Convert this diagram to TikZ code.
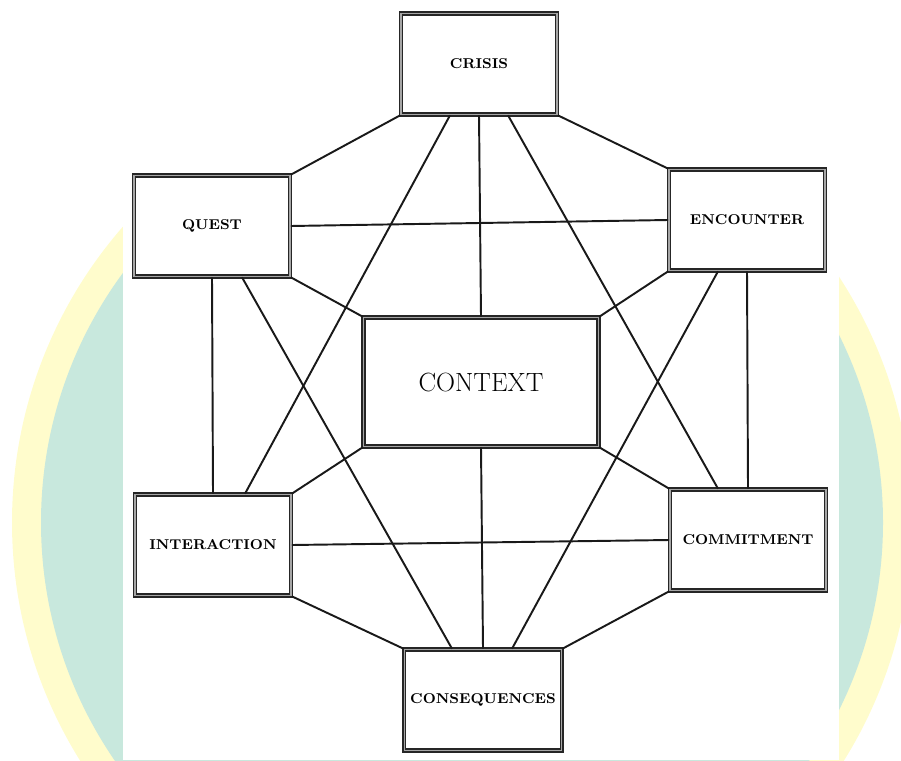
\documentclass[tikz,border=0pt]{standalone}
\usepackage{xcolor}
\usepackage{tikz}
\usetikzlibrary{positioning, calc}

\definecolor{wmteal}{RGB}{200,232,221}
\definecolor{wmyellow}{RGB}{255,252,204}

\begin{document}
\begin{tikzpicture}[
    stage/.style={rectangle, draw=black!85, double=black!35, double distance=0.6pt, line width=0.9pt, fill=white, minimum width=3.12cm, minimum height=2.02cm, font=\fontsize{8.1}{10}\selectfont\bfseries},
    core/.style={stage, minimum width=4.7cm, minimum height=2.58cm, font=\fontsize{15}{18}\selectfont},
    link/.style={line width=1.1pt, draw=black!90}
]

\useasboundingbox (0,0) rectangle (18.02,15.2);

% Watermark behind the page
\begin{scope}
    \clip (0,0) rectangle (18.02,15.2);
    \fill[wmyellow] (9.24,4.75) circle (9.0);
    \fill[wmteal] (9.24,4.75) circle (8.42);
\end{scope}
\fill[white] (2.46,0) rectangle (16.78,15.2);

% Stages
\node[stage] (crisis) at (9.58, 13.92) {CRISIS};
\node[stage] (quest) at (4.24, 10.68) {QUEST};
\node[stage] (encounter) at (14.94, 10.80) {ENCOUNTER};
\node[core] (context) at (9.62, 7.56) {CONTEXT};
\node[stage] (interaction) at (4.26, 4.30) {INTERACTION};
\node[stage] (commitment) at (14.96, 4.40) {COMMITMENT};
\node[stage] (consequences) at (9.66, 1.20) {CONSEQUENCES};

% Outer ring
\draw[link] (crisis.south west) -- (quest.north east);
\draw[link] (crisis.south east) -- (encounter.north west);
\draw[link] (quest.south) -- (interaction.north);
\draw[link] (encounter.south) -- (commitment.north);
\draw[link] (interaction.south east) -- (consequences.north west);
\draw[link] (commitment.south west) -- (consequences.north east);

% Cross links
\draw[link] (quest.east) -- (encounter.west);
\draw[link] (interaction.east) -- (commitment.west);
\draw[link] ([xshift=-0.58cm]crisis.south) -- ([xshift=0.64cm]interaction.north);
\draw[link] ([xshift=0.58cm]crisis.south) -- ([xshift=-0.6cm]commitment.north);
\draw[link] ([xshift=0.6cm]quest.south) -- ([xshift=-0.62cm]consequences.north);
\draw[link] ([xshift=-0.58cm]encounter.south) -- ([xshift=0.58cm]consequences.north);

% Spokes to the centre
\draw[link] (crisis.south) -- (context.north);
\draw[link] (context.south) -- (consequences.north);
\draw[link] (quest.south east) -- (context.north west);
\draw[link] (encounter.south west) -- (context.north east);
\draw[link] (interaction.north east) -- (context.south west);
\draw[link] (commitment.north west) -- (context.south east);

\end{tikzpicture}
\end{document}
